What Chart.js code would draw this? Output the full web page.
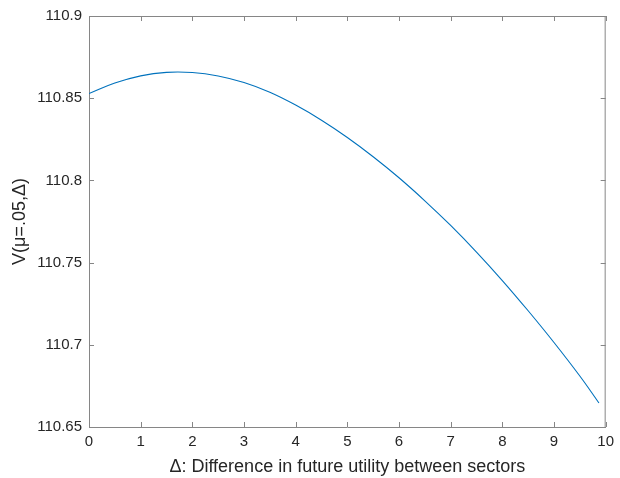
<!DOCTYPE html>
<html><head><meta charset="utf-8">
<script src="https://cdn.jsdelivr.net/npm/chart.js@4/dist/chart.umd.min.js"></script>
<style>html,body{margin:0;padding:0;background:#fff}#wrap{width:620px;height:478px}</style>
</head><body><div id="wrap"><canvas id="c" width="620" height="478"></canvas></div>
<script>
const deltaValues = [0, 0.5, 1, 1.5, 2, 2.5, 3, 3.5, 4, 4.5, 5, 5.5, 6, 6.5, 7, 7.5, 8, 8.5, 9, 9.5, 9.87];
const vValues = [110.8528, 110.8592, 110.8636, 110.8657, 110.8656, 110.8635, 110.8595, 110.8536, 110.8458, 110.8366, 110.8261, 110.8144, 110.8016, 110.7876, 110.7726, 110.7564, 110.7391, 110.7207, 110.7014, 110.6810, 110.6646];
const xTicks = [0, 1, 2, 3, 4, 5, 6, 7, 8, 9, 10];
const yTicks = [110.65, 110.7, 110.75, 110.8, 110.85, 110.9];
const xTitle = 'Δ: Difference in future utility between sectors';
const yTitle = 'V(μ=.05,Δ)';

const axisColor = '#868686';
const textColor = '#262626';
const fontFamily = '"Liberation Sans", Arial, Helvetica, sans-serif';

const boxPlugin = {
  id: 'boxTicks',
  afterDraw(chart) {
    const {ctx, chartArea: a, scales: {x, y}} = chart;
    ctx.save();
    ctx.strokeStyle = axisColor;
    ctx.lineWidth = 1;
    const L = 5;
    ctx.beginPath();
    ctx.moveTo(a.left, a.top + 0.5); ctx.lineTo(a.right, a.top + 0.5);
    ctx.moveTo(a.right - 0.5, a.top); ctx.lineTo(a.right - 0.5, a.bottom);
    x.ticks.forEach(t => {
      const px = Math.round(x.getPixelForValue(t.value)) + 0.5;
      ctx.moveTo(px, a.bottom); ctx.lineTo(px, a.bottom - L);
      ctx.moveTo(px, a.top); ctx.lineTo(px, a.top + L);
    });
    y.ticks.forEach(t => {
      const py = Math.round(y.getPixelForValue(t.value)) + 0.5;
      ctx.moveTo(a.left, py); ctx.lineTo(a.left + L, py);
      ctx.moveTo(a.right, py); ctx.lineTo(a.right - L, py);
    });
    ctx.stroke();
    ctx.restore();
  }
};

new Chart(document.getElementById('c'), {
  type: 'line',
  data: {
    datasets: [{
      data: deltaValues.map((d, i) => ({x: d, y: vValues[i]})),
      borderColor: '#0072BD',
      borderWidth: 1.1,
      pointRadius: 0,
      tension: 0.4,
      fill: false
    }]
  },
  options: {
    responsive: false,
    animation: false,
    events: [],
    layout: {padding: {top: 15, right: 9, left: 0, bottom: 0}},
    plugins: {legend: {display: false}, tooltip: {enabled: false}},
    scales: {
      x: {
        type: 'linear', min: 0, max: 10,
        afterBuildTicks: s => { s.ticks = xTicks.map(v => ({value: v})); },
        afterFit: s => { s.height = 51; },
        grid: {display: false, drawTicks: false},
        border: {display: true, color: axisColor, width: 1},
        ticks: {color: textColor, font: {family: fontFamily, size: 15}, padding: 6, maxRotation: 0, autoSkip: false},
        title: {display: true, text: xTitle, color: textColor, font: {family: fontFamily, size: 18}, padding: {top: 0, bottom: 0}}
      },
      y: {
        type: 'linear', min: 110.65, max: 110.9,
        afterBuildTicks: s => { s.ticks = yTicks.map(v => ({value: v})); },
        afterFit: s => { s.width = 89; },
        grid: {display: false, drawTicks: false},
        border: {display: true, color: axisColor, width: 1},
        ticks: {color: textColor, font: {family: fontFamily, size: 15}, padding: 7, autoSkip: false,
          callback: v => String(Number(Number(v).toFixed(2)))},
        title: {display: true, text: yTitle, color: textColor, font: {family: fontFamily, size: 18}, padding: {top: 9, bottom: 0}}
      }
    }
  },
  plugins: [boxPlugin]
});
</script>
</body></html>
